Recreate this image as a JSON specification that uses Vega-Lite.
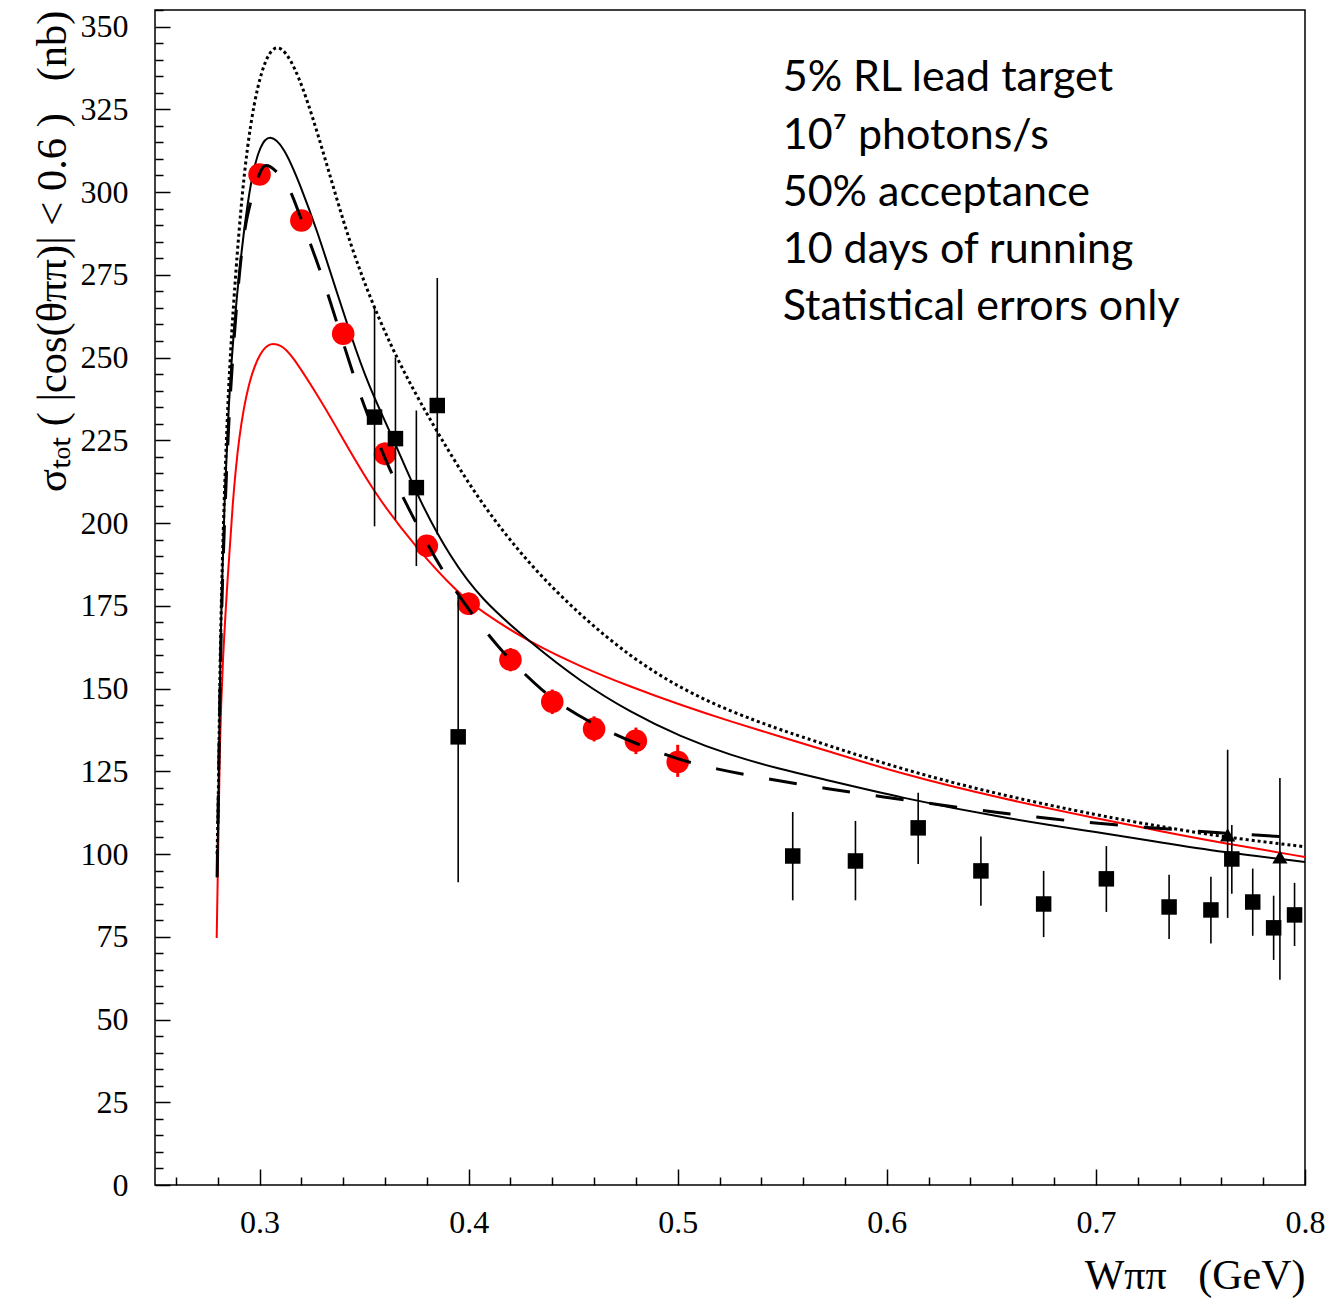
{
  "$schema": "https://vega.github.io/schema/vega-lite/v6.json",
  "autosize": {"type": "none"},
  "width": 1150,
  "height": 1175,
  "padding": {"left": 155, "top": 10, "right": 29, "bottom": 126},
  "background": "white",
  "config": {
    "view": {"stroke": "black", "strokeWidth": 1.5},
    "axis": {
      "grid": false,
      "domain": false,
      "labelFont": "Liberation Serif",
      "labelFontSize": 32,
      "labelColor": "black",
      "tickColor": "black",
      "tickWidth": 1.5,
      "titleFont": "Liberation Serif",
      "titleFontWeight": "normal",
      "titleColor": "black"
    }
  },
  "datasets": {
    "solid": [
      {"W": 0.2797, "v": 93}, {"W": 0.2804, "v": 117}, {"W": 0.2809, "v": 147}, {"W": 0.2818, "v": 178},
      {"W": 0.2833, "v": 208}, {"W": 0.2852, "v": 236}, {"W": 0.2877, "v": 259}, {"W": 0.2909, "v": 280},
      {"W": 0.2957, "v": 304}, {"W": 0.3005, "v": 314.5}, {"W": 0.3048, "v": 317.5}, {"W": 0.3115, "v": 314},
      {"W": 0.3196, "v": 302}, {"W": 0.3277, "v": 288}, {"W": 0.3355, "v": 272.6}, {"W": 0.3435, "v": 257},
      {"W": 0.3517, "v": 242}, {"W": 0.365, "v": 224}, {"W": 0.377, "v": 206}, {"W": 0.3914, "v": 189.5},
      {"W": 0.4058, "v": 177}, {"W": 0.4297, "v": 163.8}, {"W": 0.4536, "v": 152}, {"W": 0.4775, "v": 142.8},
      {"W": 0.5014, "v": 135.4}, {"W": 0.5254, "v": 129.8}, {"W": 0.5493, "v": 125.6}, {"W": 0.5684, "v": 122.8},
      {"W": 0.6067, "v": 117}, {"W": 0.6545, "v": 111}, {"W": 0.7024, "v": 106.4}, {"W": 0.7301, "v": 103.6},
      {"W": 0.76, "v": 100.6}, {"W": 0.8, "v": 97.6}
    ],
    "red": [
      {"W": 0.2795, "v": 74.6}, {"W": 0.2804, "v": 107}, {"W": 0.2809, "v": 132}, {"W": 0.2823, "v": 158},
      {"W": 0.2847, "v": 183}, {"W": 0.2871, "v": 206}, {"W": 0.29, "v": 226}, {"W": 0.2948, "v": 243},
      {"W": 0.3005, "v": 252}, {"W": 0.3053, "v": 254.5}, {"W": 0.31, "v": 253.8}, {"W": 0.3148, "v": 251.5},
      {"W": 0.329, "v": 237.3}, {"W": 0.334, "v": 232}, {"W": 0.3546, "v": 209}, {"W": 0.3756, "v": 192},
      {"W": 0.3947, "v": 179}, {"W": 0.4067, "v": 173}, {"W": 0.4296, "v": 163.8}, {"W": 0.4536, "v": 156.6},
      {"W": 0.4775, "v": 150.5}, {"W": 0.5014, "v": 145}, {"W": 0.5254, "v": 140}, {"W": 0.5493, "v": 135.4},
      {"W": 0.5684, "v": 131.8}, {"W": 0.6067, "v": 124.2}, {"W": 0.6545, "v": 116.8}, {"W": 0.7024, "v": 110.5},
      {"W": 0.7301, "v": 107}, {"W": 0.76, "v": 103.4}, {"W": 0.8, "v": 99.1}
    ],
    "dotted": [
      {"W": 0.2797, "v": 100}, {"W": 0.2804, "v": 120}, {"W": 0.2809, "v": 150}, {"W": 0.2818, "v": 180},
      {"W": 0.2833, "v": 212}, {"W": 0.2852, "v": 242}, {"W": 0.2876, "v": 267.5}, {"W": 0.2925, "v": 307.7},
      {"W": 0.299, "v": 334}, {"W": 0.3067, "v": 346}, {"W": 0.3148, "v": 341}, {"W": 0.3229, "v": 328},
      {"W": 0.3325, "v": 307.7}, {"W": 0.3435, "v": 283.5}, {"W": 0.3564, "v": 262.4}, {"W": 0.369, "v": 245.4},
      {"W": 0.385, "v": 227.3}, {"W": 0.4057, "v": 206}, {"W": 0.4296, "v": 187}, {"W": 0.4536, "v": 172},
      {"W": 0.4775, "v": 159.5}, {"W": 0.5014, "v": 150}, {"W": 0.5254, "v": 143}, {"W": 0.5493, "v": 137.5},
      {"W": 0.5589, "v": 135.5}, {"W": 0.6067, "v": 125.6}, {"W": 0.6545, "v": 117.8}, {"W": 0.7024, "v": 111.5},
      {"W": 0.7301, "v": 108.4}, {"W": 0.76, "v": 105.2}, {"W": 0.8, "v": 102.2}
    ],
    "dashed": [
      {"W": 0.2797, "v": 93}, {"W": 0.2815, "v": 170}, {"W": 0.2835, "v": 205}, {"W": 0.2852, "v": 230},
      {"W": 0.287, "v": 249}, {"W": 0.29, "v": 274}, {"W": 0.2933, "v": 292.6}, {"W": 0.3005, "v": 307.5},
      {"W": 0.3038, "v": 309}, {"W": 0.3134, "v": 303}, {"W": 0.318, "v": 295}, {"W": 0.3277, "v": 278.7},
      {"W": 0.3325, "v": 269.6}, {"W": 0.3445, "v": 245.4}, {"W": 0.3493, "v": 236.6}, {"W": 0.3594, "v": 220},
      {"W": 0.3708, "v": 204.6}, {"W": 0.39, "v": 182.3}, {"W": 0.4067, "v": 168.3}, {"W": 0.4163, "v": 161},
      {"W": 0.4258, "v": 155}, {"W": 0.44, "v": 146.5}, {"W": 0.46, "v": 139}, {"W": 0.48, "v": 133.3},
      {"W": 0.5, "v": 128.6}, {"W": 0.517, "v": 125.8}, {"W": 0.5445, "v": 122.5}, {"W": 0.5709, "v": 119.8},
      {"W": 0.5986, "v": 117.2}, {"W": 0.626, "v": 114.8}, {"W": 0.6532, "v": 112.5}, {"W": 0.6799, "v": 110.5},
      {"W": 0.708, "v": 108.8}, {"W": 0.763, "v": 106.2}, {"W": 0.795, "v": 105}
    ],
    "redpts": [
      {"W": 0.30, "v": 305.3, "lo": 302.5, "hi": 308}, {"W": 0.32, "v": 291.4, "lo": 288.5, "hi": 294.3},
      {"W": 0.34, "v": 257.2, "lo": 254, "hi": 260.4}, {"W": 0.36, "v": 220.9, "lo": 217.5, "hi": 224.3},
      {"W": 0.38, "v": 193.1, "lo": 189.8, "hi": 196.4}, {"W": 0.40, "v": 175.6, "lo": 172.2, "hi": 179},
      {"W": 0.42, "v": 158.7, "lo": 155.2, "hi": 162.2}, {"W": 0.44, "v": 146, "lo": 142.3, "hi": 149.7},
      {"W": 0.46, "v": 137.8, "lo": 134, "hi": 141.6}, {"W": 0.48, "v": 134.2, "lo": 130.2, "hi": 138.2},
      {"W": 0.50, "v": 127.8, "lo": 123.3, "hi": 133}
    ],
    "squares": [
      {"W": 0.355, "v": 232, "lo": 199, "hi": 265}, {"W": 0.365, "v": 225.5, "lo": 201, "hi": 250},
      {"W": 0.375, "v": 210.7, "lo": 187, "hi": 234}, {"W": 0.385, "v": 235.5, "lo": 196.5, "hi": 274},
      {"W": 0.395, "v": 135.4, "lo": 91.5, "hi": 178}, {"W": 0.555, "v": 99.4, "lo": 86, "hi": 112.7},
      {"W": 0.585, "v": 97.9, "lo": 86, "hi": 110}, {"W": 0.615, "v": 107.9, "lo": 97, "hi": 118.5},
      {"W": 0.645, "v": 94.9, "lo": 84.4, "hi": 105.3}, {"W": 0.675, "v": 84.9, "lo": 74.9, "hi": 94.9},
      {"W": 0.705, "v": 92.5, "lo": 82.5, "hi": 102.4}, {"W": 0.735, "v": 84, "lo": 74.3, "hi": 93.7},
      {"W": 0.755, "v": 83.1, "lo": 73, "hi": 93.1}, {"W": 0.765, "v": 98.5, "lo": 88, "hi": 108.8},
      {"W": 0.775, "v": 85.5, "lo": 75.3, "hi": 95.6}, {"W": 0.785, "v": 77.7, "lo": 68, "hi": 87.4},
      {"W": 0.795, "v": 81.6, "lo": 72.2, "hi": 91.3}
    ],
    "triangles": [
      {"W": 0.763, "v": 105.8, "lo": 80.7, "hi": 131.5},
      {"W": 0.788, "v": 99.1, "lo": 62, "hi": 123}
    ],
    "notes": [
      {"W": 0.5502, "v": 330.4, "t": "5% RL lead target"},
      {"W": 0.5502, "v": 313.1, "t": "10⁷ photons/s"},
      {"W": 0.5502, "v": 295.9, "t": "50% acceptance"},
      {"W": 0.5502, "v": 278.7, "t": "10 days of running"},
      {"W": 0.5502, "v": 261.4, "t": "Statistical errors only"}
    ]
  },
  "resolve": {"axis": {"x": "independent", "y": "independent"}},
  "layer": [
    {
      "data": {"name": "red"},
      "mark": {"type": "line", "color": "#ff0000", "strokeWidth": 2, "interpolate": "basis", "clip": true},
      "encoding": {
        "x": {"field": "W", "type": "quantitative", "scale": {"domain": [0.25, 0.8], "nice": false, "zero": false},
          "axis": {"values": [0.3, 0.4, 0.5, 0.6, 0.7, 0.8], "format": ".1f", "tickSize": -16, "labelPadding": 38,
            "labelFlush": false, "labelOverlap": false, "title": "Wππ\u00a0\u00a0\u00a0(GeV)", "titleFontSize": 42,
            "titleAnchor": "end", "titlePadding": 17}},
        "y": {"field": "v", "type": "quantitative", "scale": {"domain": [0, 355], "nice": false},
          "axis": {"values": [0, 25, 50, 75, 100, 125, 150, 175, 200, 225, 250, 275, 300, 325, 350], "tickSize": -15,
            "labelPadding": 42, "labelOverlap": false, "title": "σₜₒₜ ( |cos(θππ)| < 0.6 )\u00a0\u00a0\u00a0(nb)", "titleFontSize": 42.5,
            "titleAnchor": "end", "titlePadding": 6}}
      }
    },
    {
      "data": {"name": "dotted"},
      "mark": {"type": "line", "color": "black", "strokeWidth": 3, "strokeDash": [3, 3], "interpolate": "basis", "clip": true},
      "encoding": {
        "x": {"field": "W", "type": "quantitative",
          "axis": {"values": [0.26, 0.28, 0.32, 0.34, 0.36, 0.38, 0.42, 0.44, 0.46, 0.48, 0.52, 0.54, 0.56, 0.58, 0.62, 0.64, 0.66, 0.68, 0.72, 0.74, 0.76, 0.78],
            "tickSize": -8, "labels": false, "title": null, "orient": "bottom"}},
        "y": {"field": "v", "type": "quantitative",
          "axis": {"values": [5, 10, 15, 20, 30, 35, 40, 45, 55, 60, 65, 70, 80, 85, 90, 95, 105, 110, 115, 120, 130, 135, 140, 145, 155, 160, 165, 170, 180, 185, 190, 195, 205, 210, 215, 220, 230, 235, 240, 245, 255, 260, 265, 270, 280, 285, 290, 295, 305, 310, 315, 320, 330, 335, 340, 345, 355],
            "tickSize": -8, "labels": false, "title": null, "orient": "left"}}
      }
    },
    {
      "data": {"name": "solid"},
      "mark": {"type": "line", "color": "black", "strokeWidth": 2, "interpolate": "basis", "clip": true},
      "encoding": {
        "x": {"field": "W", "type": "quantitative", "axis": null},
        "y": {"field": "v", "type": "quantitative", "axis": null}
      }
    },
    {
      "data": {"name": "redpts"},
      "mark": {"type": "rule", "color": "#ff0000", "strokeWidth": 3},
      "encoding": {
        "x": {"field": "W", "type": "quantitative", "axis": null},
        "y": {"field": "lo", "type": "quantitative", "axis": null},
        "y2": {"field": "hi"}
      }
    },
    {
      "data": {"name": "redpts"},
      "mark": {"type": "point", "shape": "circle", "filled": true, "color": "#ff0000", "opacity": 1, "size": 510},
      "encoding": {
        "x": {"field": "W", "type": "quantitative", "axis": null},
        "y": {"field": "v", "type": "quantitative", "axis": null}
      }
    },
    {
      "data": {"name": "dashed"},
      "mark": {"type": "line", "color": "black", "strokeWidth": 3, "strokeDash": [28, 26], "interpolate": "basis", "clip": true},
      "encoding": {
        "x": {"field": "W", "type": "quantitative", "axis": null},
        "y": {"field": "v", "type": "quantitative", "axis": null}
      }
    },
    {
      "data": {"name": "squares"},
      "mark": {"type": "rule", "color": "black", "strokeWidth": 1.6},
      "encoding": {
        "x": {"field": "W", "type": "quantitative", "axis": null},
        "y": {"field": "lo", "type": "quantitative", "axis": null},
        "y2": {"field": "hi"}
      }
    },
    {
      "data": {"name": "squares"},
      "mark": {"type": "point", "shape": "square", "filled": true, "color": "black", "opacity": 1, "size": 240},
      "encoding": {
        "x": {"field": "W", "type": "quantitative", "axis": null},
        "y": {"field": "v", "type": "quantitative", "axis": null}
      }
    },
    {
      "data": {"name": "triangles"},
      "mark": {"type": "rule", "color": "black", "strokeWidth": 1.6},
      "encoding": {
        "x": {"field": "W", "type": "quantitative", "axis": null},
        "y": {"field": "lo", "type": "quantitative", "axis": null},
        "y2": {"field": "hi"}
      }
    },
    {
      "data": {"name": "triangles"},
      "mark": {"type": "point", "shape": "triangle-up", "filled": true, "color": "black", "opacity": 1, "size": 230},
      "encoding": {
        "x": {"field": "W", "type": "quantitative", "axis": null},
        "y": {"field": "v", "type": "quantitative", "axis": null}
      }
    },
    {
      "data": {"name": "notes"},
      "mark": {"type": "text", "align": "left", "baseline": "alphabetic", "font": "Lato", "fontSize": 43, "color": "black"},
      "encoding": {
        "x": {"field": "W", "type": "quantitative", "axis": null},
        "y": {"field": "v", "type": "quantitative", "axis": null},
        "text": {"field": "t"}
      }
    }
  ]
}
